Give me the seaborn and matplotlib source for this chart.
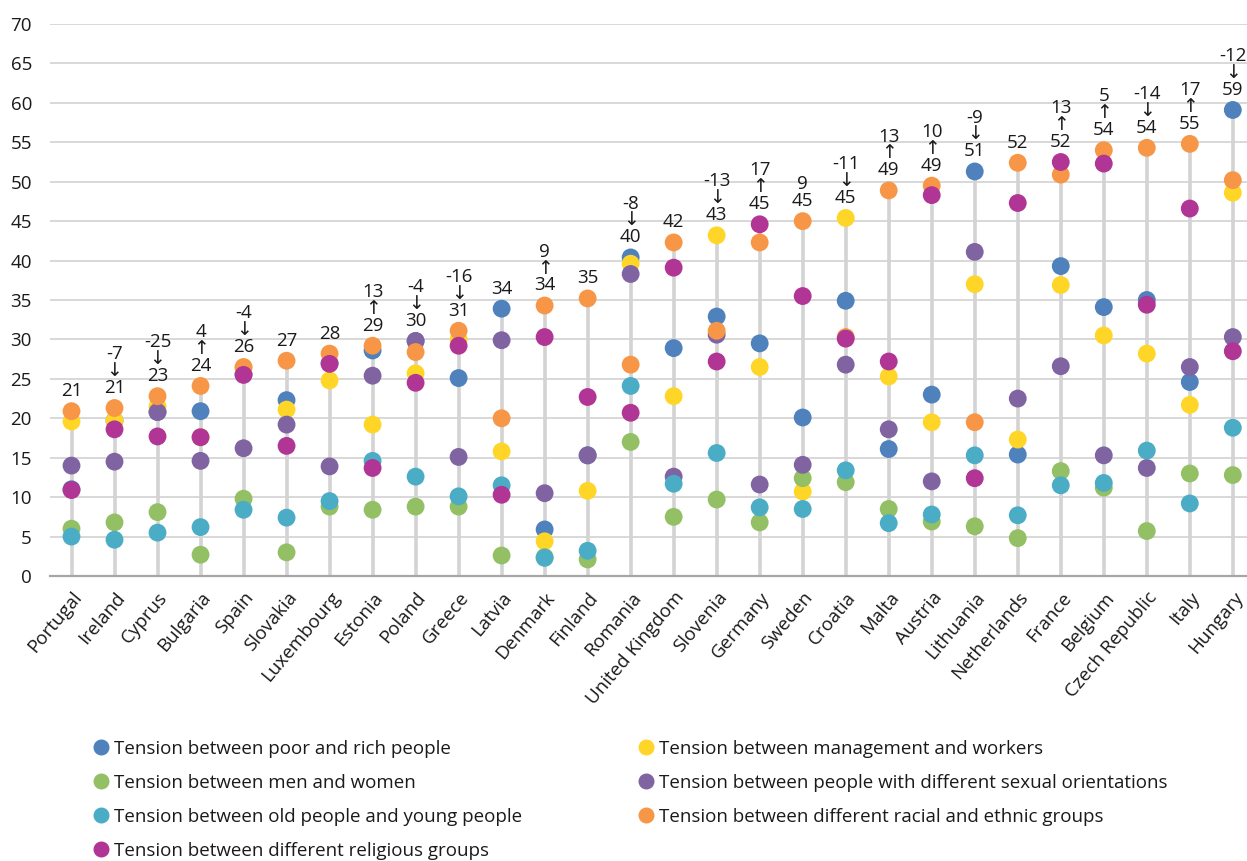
import matplotlib
matplotlib.use("Agg")
import matplotlib.pyplot as plt
from matplotlib.lines import Line2D
import seaborn as sns
import pandas as pd
import numpy as np

countries = ["Portugal", "Ireland", "Cyprus", "Bulgaria", "Spain", "Slovakia", "Luxembourg",
             "Estonia", "Poland", "Greece", "Latvia", "Denmark", "Finland", "Romania",
             "United Kingdom", "Slovenia", "Germany", "Sweden", "Croatia", "Malta", "Austria",
             "Lithuania", "Netherlands", "France", "Belgium", "Czech Republic", "Italy", "Hungary"]

poor_rich = [11.0, 19.7, 20.8, 20.9, 25.6, 22.3, 27.0, 28.6, 29.8, 25.1, 33.9, 5.9, 15.3, 40.4,
             28.9, 32.9, 29.5, 20.1, 34.9, 16.1, 23.0, 51.3, 15.4, 39.3, 34.1, 35.0, 24.6, 59.1]
management_workers = [19.6, 19.7, 21.5, 17.6, 26.4, 21.1, 24.8, 19.2, 25.7, 30.0, 15.8, 4.4, 10.8, 39.6,
                      22.8, 43.2, 26.5, 10.7, 45.4, 25.3, 19.5, 37.0, 17.3, 36.9, 30.5, 28.2, 21.7, 48.6]
men_women = [6.0, 6.8, 8.1, 2.7, 9.8, 3.0, 8.8, 8.4, 8.8, 8.8, 2.6, 2.4, 2.1, 17.0,
             7.5, 9.7, 6.8, 12.4, 11.9, 8.5, 6.9, 6.3, 4.8, 13.3, 11.2, 5.7, 13.0, 12.8]
sexual_orientation = [14.0, 14.5, 20.8, 14.6, 16.2, 19.2, 13.9, 25.4, 29.8, 15.1, 29.9, 10.5, 15.3, 38.3,
                      12.6, 30.6, 11.6, 14.1, 26.8, 18.6, 12.0, 41.1, 22.5, 26.6, 15.3, 13.7, 26.5, 30.3]
old_young = [5.0, 4.6, 5.5, 6.2, 8.4, 7.4, 9.5, 14.6, 12.6, 10.1, 11.5, 2.3, 3.2, 24.1,
             11.7, 15.6, 8.7, 8.5, 13.4, 6.7, 7.8, 15.3, 7.7, 11.5, 11.8, 15.9, 9.2, 18.8]
racial_ethnic = [20.9, 21.3, 22.8, 24.1, 26.5, 27.3, 28.2, 29.2, 28.4, 31.1, 20.0, 34.3, 35.2, 26.8,
                 42.3, 31.1, 42.3, 45.0, 30.3, 48.9, 49.5, 19.5, 52.4, 50.9, 54.0, 54.3, 54.8, 50.2]
religious = [10.9, 18.6, 17.7, 17.6, 25.5, 16.5, 26.9, 13.7, 24.5, 29.2, 10.3, 30.3, 22.7, 20.7,
             39.1, 27.2, 44.6, 35.5, 30.1, 27.2, 48.3, 12.4, 47.3, 52.5, 52.3, 34.4, 46.6, 28.5]

top_labels = [21, 21, 23, 24, 26, 27, 28, 29, 30, 31, 34, 34, 35, 40,
              42, 43, 45, 45, 45, 49, 49, 51, 52, 52, 54, 54, 55, 59]
changes = ["", "-7", "-25", "4", "-4", "", "", "13", "-4", "-16", "", "9", "", "-8",
           "", "-13", "17", "9", "-11", "13", "10", "-9", "", "13", "5", "-14", "17", "-12"]
arrows = ["", "↓", "↓", "↑", "↓", "", "", "↑", "↓", "↓", "", "↑", "", "↓",
          "", "↓", "↑", "", "↓", "↑", "↑", "↓", "", "↑", "↑", "↓", "↑", "↓"]

series_names = ["Tension between poor and rich people",
                "Tension between management and workers",
                "Tension between men and women",
                "Tension between people with different sexual orientations",
                "Tension between old people and young people",
                "Tension between different racial and ethnic groups",
                "Tension between different religious groups"]
series_values = [poor_rich, management_workers, men_women, sexual_orientation,
                 old_young, racial_ethnic, religious]
colors = ["#4F81BD", "#FFD628", "#93C064", "#8064A2", "#4BACC6", "#F79646", "#B03595"]

sns.set_theme(style="white")
FONT = ["Open Sans", "DejaVu Sans"]
plt.rcParams["font.family"] = FONT
FS = 13.5

rows = []
for name, vals in zip(series_names, series_values):
    for c, v in zip(countries, vals):
        rows.append({"country": c, "value": v, "series": name})
df = pd.DataFrame(rows)

fig = plt.figure(figsize=(12.47, 8.61), dpi=100)
W, H = 1247, 861
ax = fig.add_axes([50 / W, 1 - 576 / H, (W - 50) / W, 552 / H])

maxvals = df.groupby("country", sort=False)["value"].max().reindex(countries).values
xpos = np.arange(len(countries))
ax.vlines(xpos, 0, maxvals, color="#d3d3d3", lw=2.6, zorder=1)

palette = dict(zip(series_names, colors))
sns.scatterplot(data=df, x="country", y="value", hue="series", palette=palette,
                s=165, linewidth=0, edgecolor="none", legend=False, ax=ax, zorder=3)

ax.set_ylim(0, 70)
ax.set_xlim(-0.5, 27.33)
ax.set_yticks(range(0, 71, 5))
ax.yaxis.grid(True, color="#d6d6d6", lw=1.3)
ax.set_axisbelow(True)
for s in ["top", "right", "left"]:
    ax.spines[s].set_visible(False)
ax.spines["bottom"].set_color("#a6a6a6")
ax.spines["bottom"].set_linewidth(1.6)
ax.set_xlabel("")
ax.set_ylabel("")
ax.set_xticks(xpos)
ax.set_xticklabels(countries, rotation=50, ha="right", rotation_mode="anchor", fontsize=FS)
ax.tick_params(axis="x", length=0, pad=9)
ax.tick_params(axis="y", length=0, pad=13, labelsize=FS)
for t in ax.get_yticklabels() + ax.get_xticklabels():
    t.set_color("#1a1a1a")

for i in range(len(countries)):
    lines = []
    if changes[i]:
        lines.append(changes[i])
    if arrows[i]:
        lines.append(arrows[i])
    lines.append(str(top_labels[i]))
    ax.annotate("\n".join(lines), (i, maxvals[i]), xytext=(0, 8), textcoords="offset points",
                ha="center", va="bottom", fontsize=FS, linespacing=0.92, color="#1a1a1a",
                family=FONT, annotation_clip=False)

def handle(c):
    return Line2D([], [], marker="o", ls="", markersize=10.5, color=c)

col1 = [0, 2, 4, 6]
col2 = [1, 3, 5]
for idxs, x0 in [(col1, 80 / W), (col2, 625 / W)]:
    fig.legend([handle(colors[k]) for k in idxs], [series_names[k] for k in idxs],
               loc="upper left", bbox_to_anchor=(x0, 1 - 732 / H), frameon=False,
               fontsize=FS, handletextpad=0.0, labelspacing=0.86, borderaxespad=0,
               handlelength=1.4, labelcolor="#1a1a1a")

fig.savefig("out.png", dpi=100)
